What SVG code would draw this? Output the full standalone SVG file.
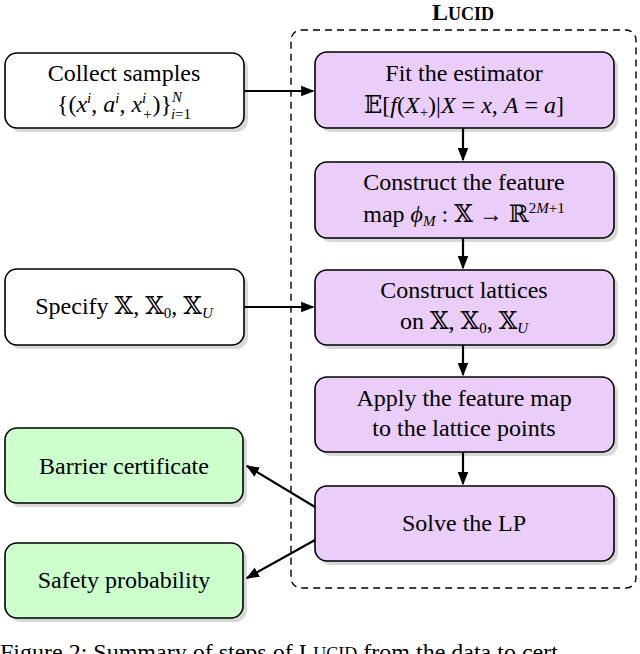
<svg xmlns="http://www.w3.org/2000/svg" width="640" height="654" viewBox="0 0 640 654">
<style>
text{font-family:"Liberation Serif","DejaVu Serif",serif;font-size:24px;fill:#000;text-anchor:middle}
.i{font-style:italic}
.sh{fill:#d8d8d8}
.w{fill:#fff;stroke:#000;stroke-width:1.6}
.p{fill:#ebcdf9;stroke:#000;stroke-width:1.6}
.g{fill:#ccffcc;stroke:#000;stroke-width:1.6}
.c{stroke:#000;stroke-width:2.2;fill:none;marker-end:url(#a)}
</style>
<defs><marker id="a" viewBox="0 0 10 10" refX="9" refY="5" markerWidth="6" markerHeight="6" orient="auto"><path d="M0,1L10,5L0,9z"/></marker></defs>
<rect width="640" height="654" fill="#fff"/>
<text x="463" y="20" font-weight="bold">L<tspan font-size="18">UCID</tspan></text>
<rect x="291" y="30" width="345" height="558" rx="10" fill="none" stroke="#000" stroke-width="1.4" stroke-dasharray="7,5"/>
<g id="collect"><rect class="sh" x="9" y="57" width="239" height="75" rx="12"/><rect class="w" x="5" y="53" width="239" height="75" rx="12"/><text x="124" y="81">Collect samples</text><text x="124" y="112">{(<tspan class="i">x<tspan font-size="15" dy="-9">i</tspan></tspan><tspan dy="9">, </tspan><tspan class="i">a<tspan font-size="15" dy="-9">i</tspan></tspan><tspan dy="9">, </tspan><tspan class="i">x<tspan font-size="15" dy="-9">i</tspan><tspan font-size="15" dx="-4" dy="16">+</tspan></tspan><tspan dy="-7">)}</tspan><tspan font-size="15" dy="-10" class="i">N</tspan><tspan font-size="15" dx="-11" dy="17"><tspan class="i">i</tspan>=1</tspan></text></g>
<g id="fit"><rect class="sh" x="319" y="56" width="299" height="76" rx="12"/><rect class="p" x="315" y="52" width="299" height="76" rx="12"/><text x="464" y="81">Fit the estimator</text><text x="464" y="113">𝔼[<tspan class="i">f</tspan>(<tspan class="i">X</tspan><tspan font-size="15" dy="4">+</tspan><tspan dy="-4">)|</tspan><tspan class="i">X</tspan> = <tspan class="i">x</tspan>, <tspan class="i">A</tspan> = <tspan class="i">a</tspan>]</text></g>
<g id="feature"><rect class="sh" x="319" y="166" width="299" height="76" rx="12"/><rect class="p" x="315" y="162" width="299" height="76" rx="12"/><text x="464" y="190">Construct the feature</text><text x="464" y="222">map <tspan class="i">ϕ</tspan><tspan class="i" font-size="15" dy="4">M</tspan><tspan dy="-4"> : 𝕏 → ℝ</tspan><tspan font-size="15" dy="-9">2<tspan class="i">M</tspan>+1</tspan></text></g>
<g id="lattices"><rect class="sh" x="319" y="274" width="299" height="75" rx="12"/><rect class="p" x="315" y="270" width="299" height="75" rx="12"/><text x="464" y="298">Construct lattices</text><text x="464" y="329">on 𝕏, 𝕏<tspan font-size="15" dy="4">0</tspan><tspan dy="-4">, 𝕏</tspan><tspan class="i" font-size="15" dy="4">U</tspan></text></g>
<g id="apply"><rect class="sh" x="319" y="381" width="299" height="75" rx="12"/><rect class="p" x="315" y="377" width="299" height="75" rx="12"/><text x="464" y="406">Apply the feature map</text><text x="464" y="436">to the lattice points</text></g>
<g id="solve"><rect class="sh" x="319" y="490" width="299" height="75" rx="12"/><rect class="p" x="315" y="486" width="299" height="75" rx="12"/><text x="464" y="531">Solve the LP</text></g>
<g id="specify"><rect class="sh" x="9" y="273" width="239" height="76" rx="12"/><rect class="w" x="5" y="269" width="239" height="76" rx="12"/><text x="124" y="314">Specify 𝕏, 𝕏<tspan font-size="15" dy="4">0</tspan><tspan dy="-4">, 𝕏</tspan><tspan class="i" font-size="15" dy="4">U</tspan></text></g>
<g id="barrier"><rect class="sh" x="9" y="432" width="238" height="75" rx="12"/><rect class="g" x="5" y="428" width="238" height="75" rx="12"/><text x="124" y="474">Barrier certificate</text></g>
<g id="safety"><rect class="sh" x="9" y="547" width="238" height="75" rx="12"/><rect class="g" x="5" y="543" width="238" height="75" rx="12"/><text x="124" y="588">Safety probability</text></g>
<g id="connectors">
<line class="c" x1="244" y1="91" x2="313" y2="91"/>
<line class="c" x1="244" y1="307" x2="313" y2="307"/>
<line class="c" x1="463" y1="128" x2="463" y2="160"/>
<line class="c" x1="463" y1="238" x2="463" y2="268"/>
<line class="c" x1="463" y1="345" x2="463" y2="375"/>
<line class="c" x1="463" y1="452" x2="463" y2="484"/>
<line class="c" x1="315" y1="507" x2="247" y2="466"/>
<line class="c" x1="315" y1="540" x2="247" y2="578"/>
</g>
<text x="0" y="660" style="text-anchor:start">Figure 2: Summary of steps of L<tspan font-size="18">UCID</tspan> from the data to cert</text>
</svg>
